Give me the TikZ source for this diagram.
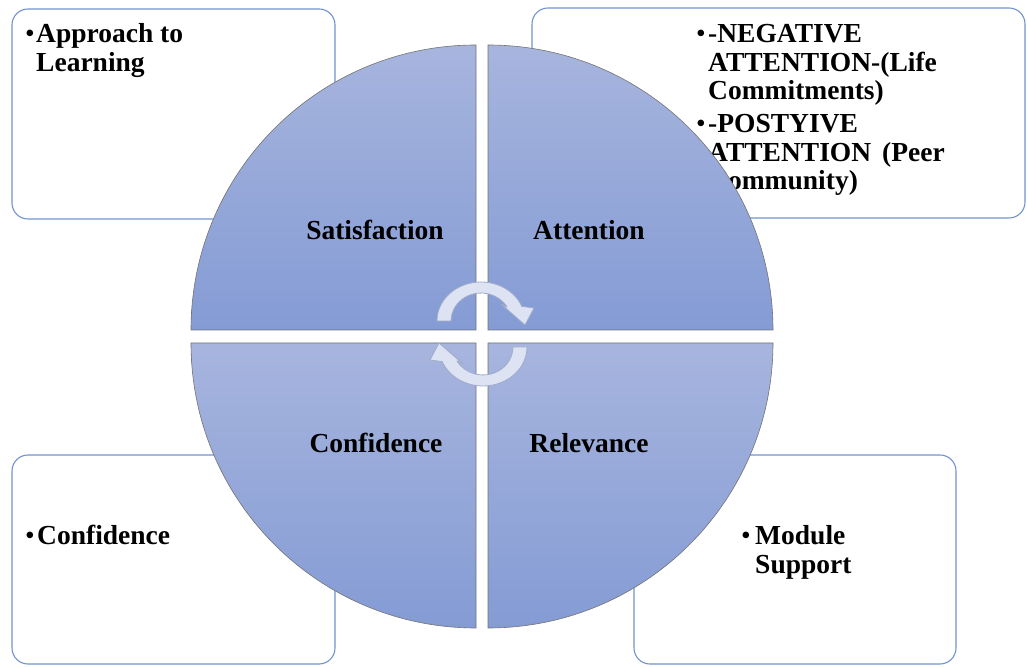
\documentclass[tikz,border=0pt]{standalone}
\usepackage{fontspec}
\setmainfont{Liberation Serif}
\definecolor{qtop}{RGB}{167,181,222}
\definecolor{qbot}{RGB}{132,155,212}
\definecolor{boxline}{RGB}{114,147,208}
\definecolor{arrfill}{RGB}{221,227,242}
\definecolor{arrline}{RGB}{160,172,202}
\begin{document}
\begin{tikzpicture}[x=1pt,y=1pt,
  infobox/.style={draw=boxline, line width=1.1pt, fill=white, rounded corners=16pt, inner sep=0pt},
  quad/.style={top color=qtop, bottom color=qbot, draw=black!55, line width=0.6pt},
  txt/.style={font=\fontsize{27.5}{28.5}\selectfont\bfseries, inner sep=0pt, anchor=base west},
  bul/.style={font=\fontsize{27.5}{28.5}\selectfont, inner sep=0pt, anchor=base west},
  lbl/.style={font=\fontsize{27.5}{28.5}\selectfont\bfseries, inner sep=0pt, anchor=base},
  cyc/.style={fill=arrfill, draw=arrline, line width=0.8pt, line join=round}]
\useasboundingbox (0,0) rectangle (1027,666);

% outer boxes
\node[infobox, minimum width=323pt, minimum height=210pt] (boxTL) at (173.5,552) {};
\node[infobox, minimum width=493pt, minimum height=210pt] (boxTR) at (778.5,553) {};
\node[infobox, minimum width=323pt, minimum height=209pt] (boxBL) at (173.5,106.5) {};
\node[infobox, minimum width=322pt, minimum height=209pt] (boxBR) at (795,106.5) {};

% box texts
\node[bul] (b1) at (25,623) {•};
\node[txt] (t1) at (36,623) {\vtop{\hbox{Approach to}\hbox{Learning}}};
\node[bul] (b2) at (696,623) {•};
\node[txt] (t2) at (708,623) {\vtop{\hbox{-NEGATIVE}\hbox{ATTENTION-(Life}\hbox{Commitments)}}};
\node[bul] (b3) at (696,533) {•};
\node[txt] (t3) at (708,533) {\vtop{\hbox{-POSTYIVE}\hbox{ATTENTION\hspace{11pt}(Peer}\hbox{Community)}}};
\node[bul] (b4) at (25,121) {•};
\node[txt] (t4) at (37,121) {Confidence};
\node[bul] (b5) at (741,121) {•};
\node[txt] (t5) at (755,121) {\vtop{\hbox{Module}\hbox{Support}}};

% quadrants
\draw[quad] (476,336) -- (191,336) arc[start angle=180,end angle=90,radius=285pt] -- cycle;
\draw[quad] (488,336) -- (488,621) arc[start angle=90,end angle=0,radius=285pt] -- cycle;
\draw[quad] (476,323) -- (476,38) arc[start angle=270,end angle=180,radius=285pt] -- cycle;
\draw[quad] (488,323) -- (773,323) arc[start angle=0,end angle=-90,radius=285pt] -- cycle;

% circular arrows
\draw[cyc] (437,345) arc[start angle=180,end angle=22,x radius=44pt,y radius=39pt]
  -- (534,358) -- (525,341) -- (501,362) -- (507,359)
  arc[start angle=30,end angle=180,x radius=30pt,y radius=28pt] -- cycle;
\draw[cyc, rotate around={180:(482,332)}] (437,345) arc[start angle=180,end angle=22,x radius=44pt,y radius=39pt]
  -- (534,358) -- (525,341) -- (501,362) -- (507,359)
  arc[start angle=30,end angle=180,x radius=30pt,y radius=28pt] -- cycle;

% quadrant labels
\node[lbl] (sat) at (375,426) {Satisfaction};
\node[lbl] (att) at (589,426) {Attention};
\node[lbl] (con) at (376,213) {Confidence};
\node[lbl] (rel) at (589,213) {Relevance};
\end{tikzpicture}
\end{document}
